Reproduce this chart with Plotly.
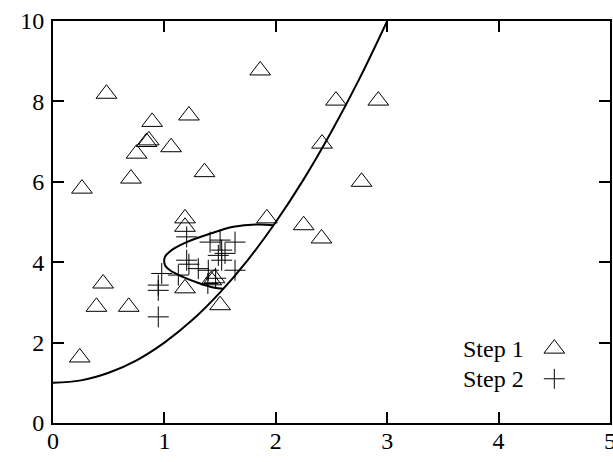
import plotly.graph_objects as go

# step 1 points (triangles)
step1_x = [0.24, 0.39, 0.45, 0.68, 0.26, 0.70, 0.75, 0.84, 0.86, 0.89, 0.48, 1.06, 1.22, 1.36,
           1.185, 1.185, 1.185, 1.42, 1.45, 1.50, 1.86, 1.92, 2.25, 2.41, 2.415, 2.54, 2.77, 2.92]
step1_y = [1.63, 2.89, 3.47, 2.89, 5.83, 6.08, 6.70, 6.99, 7.03, 7.49, 8.19, 6.86, 7.65, 6.24,
           5.09, 4.88, 3.35, 3.55, 3.60, 2.93, 8.77, 5.09, 4.92, 4.59, 6.95, 8.02, 6.00, 8.02]

# step 2 points (plus signs)
step2_x = [1.20, 1.41, 1.50, 1.634, 1.514, 1.544, 1.484, 1.20, 1.22, 1.304, 1.394, 1.634,
           0.976, 1.125, 0.945, 0.945, 0.945, 1.39, 1.514, 1.46]
step2_y = [4.63, 4.50, 4.55, 4.50, 4.30, 4.22, 4.17, 4.05, 3.95, 3.84, 3.80, 3.80,
           3.72, 3.68, 3.43, 3.30, 2.64, 3.47, 4.05, 3.60]

# main curve
curve_x = [0, 0.25, 0.5, 0.75, 1.0, 1.25, 1.5, 1.75, 2.0, 2.25, 2.5, 2.75, 3.0]
curve_y = [1.0, 1.06, 1.25, 1.56, 2.0, 2.56, 3.25, 4.06, 5.0, 6.06, 7.25, 8.56, 10.0]

# the closed loop between the two crossings
loop_x = [1.53, 1.44, 1.32, 1.17, 1.05, 1.005, 1.005, 1.065, 1.2, 1.41, 1.62, 1.83, 1.98]
loop_y = [3.34, 3.37, 3.47, 3.63, 3.80, 3.93, 4.13, 4.30, 4.50, 4.71, 4.88, 4.94, 4.92]

FONT = "Liberation Serif"
FS = 24

tri = dict(symbol="triangle-up-open", size=18, color="black", line=dict(width=1))
plus = dict(symbol="cross-thin-open", size=15, color="black", line=dict(width=1))

fig = go.Figure()
fig.add_trace(go.Scatter(x=curve_x, y=curve_y, mode="lines", line=dict(color="black", width=2, shape="spline"),
                         showlegend=False, hoverinfo="skip"))
fig.add_trace(go.Scatter(x=loop_x, y=loop_y, mode="lines", line=dict(color="black", width=2, shape="spline"),
                         showlegend=False, hoverinfo="skip"))
fig.add_trace(go.Scatter(x=step1_x, y=step1_y, mode="markers", name="Step 1", marker=tri, showlegend=False))
fig.add_trace(go.Scatter(x=step2_x, y=step2_y, mode="markers", name="Step 2", marker=plus, showlegend=False))

# gnuplot-style key: text then sample on the right
fig.add_trace(go.Scatter(x=[0.5], y=[0.5], xaxis="x2", yaxis="y2", mode="markers", marker=tri,
                         showlegend=False, hoverinfo="skip"))
fig.add_trace(go.Scatter(x=[0.5], y=[0.5], xaxis="x3", yaxis="y3", mode="markers", marker=plus,
                         showlegend=False, hoverinfo="skip"))

axis_style = dict(showgrid=False, zeroline=False, showline=True, linecolor="black", linewidth=2,
                  mirror="allticks", ticks="inside", ticklen=11, tickwidth=2, tickcolor="black",
                  ticklabeloverflow="allow",
                  tickfont=dict(family=FONT, size=FS, color="black"))

fig.update_layout(
    width=613, height=462,
    margin=dict(l=53, r=3, t=21, b=39, autoexpand=False),
    plot_bgcolor="white", paper_bgcolor="white",
    xaxis=dict(range=[0, 5], dtick=1, ticklabelstandoff=-5, **axis_style),
    yaxis=dict(range=[0, 10], dtick=2, ticklabelstandoff=2, **axis_style),
    xaxis2=dict(domain=[0.88, 0.92], range=[0, 1], visible=False),
    yaxis2=dict(domain=[0.16, 0.21], range=[0, 1], visible=False, anchor="x2"),
    xaxis3=dict(domain=[0.88, 0.92], range=[0, 1], visible=False),
    yaxis3=dict(domain=[0.085, 0.135], range=[0, 1], visible=False, anchor="x3"),
    annotations=[
        dict(text="Step 1", x=0.85, y=0.184, xref="paper", yref="paper", xanchor="right", yanchor="middle",
             showarrow=False, font=dict(family=FONT, size=FS, color="black")),
        dict(text="Step 2", x=0.85, y=0.109, xref="paper", yref="paper", xanchor="right", yanchor="middle",
             showarrow=False, font=dict(family=FONT, size=FS, color="black")),
    ],
)

fig.write_html("out.html", config={"displayModeBar": False},
               post_script="document.body.style.margin='0';")
